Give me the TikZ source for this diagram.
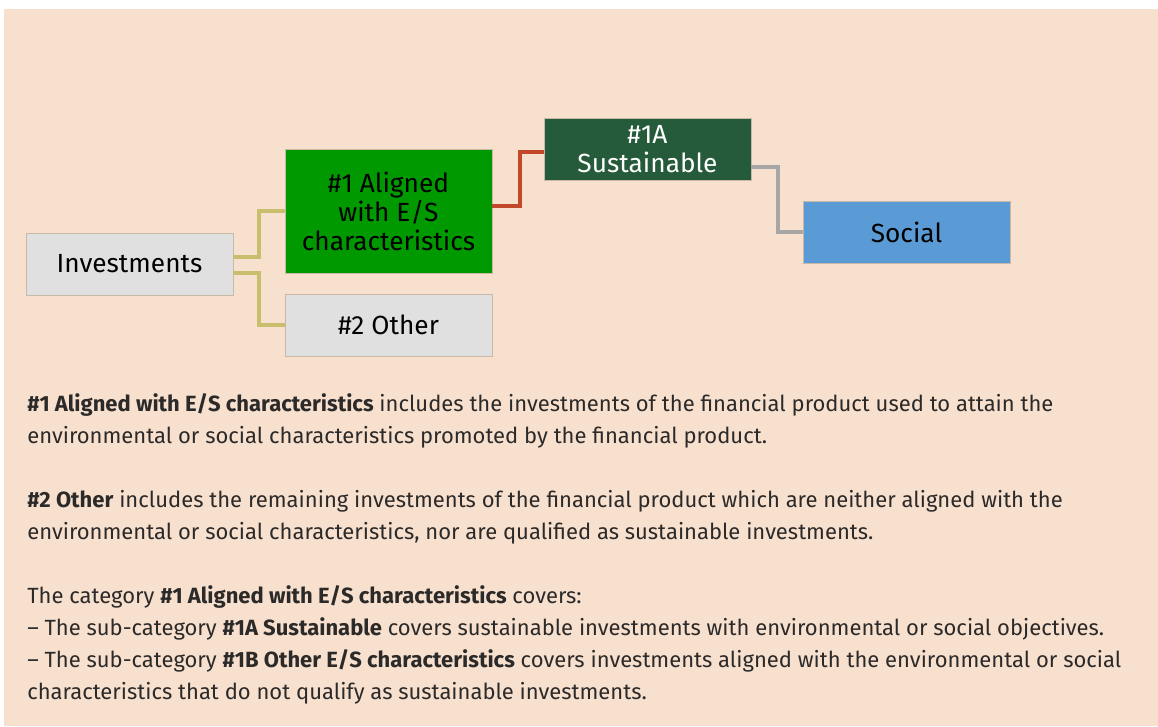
\documentclass[tikz,border=0pt]{standalone}
\usepackage{fontspec}
\setmainfont{Fira Sans}
\definecolor{bg}{HTML}{F8E0CF}
\definecolor{boxgray}{HTML}{E0E0E0}
\definecolor{agreen}{HTML}{009900}
\definecolor{dgreen}{HTML}{255A3A}
\definecolor{sblue}{HTML}{5B9BD5}
\definecolor{khaki}{HTML}{C9BE6E}
\definecolor{rust}{HTML}{C2482A}
\definecolor{lgray}{HTML}{A6A6A6}
\definecolor{txt}{HTML}{2B2A29}
\definecolor{edge}{HTML}{C8B8A8}
\begin{document}
\begin{tikzpicture}[x=0.75pt,y=-0.75pt,
  box/.style={rectangle, minimum width=155.25pt, minimum height=46.5pt, inner sep=0pt,
    align=center, draw=edge, line width=0.6pt, font=\fontsize{19.7}{21.75}\selectfont},
  conn/.style={line width=3pt},
  para/.style={anchor=base west, inner sep=0pt, text=txt, font=\fontsize{16.5}{24}\selectfont}]
\useasboundingbox (0,0) rectangle (1158,726);
\fill[white] (0,0) rectangle (1158,726);
\fill[bg] (4,9) rectangle (1158,726);

\node[box, fill=boxgray] (inv) at (129.5,264) {Investments};
\node[box, fill=agreen, minimum height=93pt] (a1) at (388.5,211) {\#1 Aligned\\with E/S\\characteristics};
\node[box, fill=boxgray] (o2) at (388.5,325) {\#2 Other};
\node[box, fill=dgreen, text=white] (s1a) at (647.5,149) {\#1A\\Sustainable};
\node[box, fill=sblue] (soc) at (906.5,232) {Social};

\draw[conn, khaki] ([yshift=5.25pt]inv.east) -- ++(26,0) |- (a1.west);
\draw[conn, khaki] ([yshift=-6.75pt]inv.east) -- ++(26,0) |- (o2.west);
\draw[conn, rust] ([yshift=3.75pt]a1.east) -- ++(28,0) |- ([yshift=-2.25pt]s1a.west);
\draw[conn, lgray] ([yshift=-13.5pt]s1a.east) -- ++(27,0) |- (soc.west);

\node[para] (p1) at (27,411) {\textbf{\#1 Aligned with E/S characteristics} includes the investments of the financial product used to attain the};
\node[para] (p2) at (27,443) {environmental or social characteristics promoted by the financial product.};
\node[para] (p3) at (27,507) {\textbf{\#2 Other} includes the remaining investments of the financial product which are neither aligned with the};
\node[para] (p4) at (27,539) {environmental or social characteristics, nor are qualified as sustainable investments.};
\node[para] (p5) at (27,603) {The category \textbf{\#1 Aligned with E/S characteristics} covers:};
\node[para] (p6) at (27,635) {– The sub-category \textbf{\#1A Sustainable} covers sustainable investments with environmental or social objectives.};
\node[para] (p7) at (27,667) {– The sub-category \textbf{\#1B Other E/S characteristics} covers investments aligned with the environmental or social};
\node[para] (p8) at (27,699) {characteristics that do not qualify as sustainable investments.};
\end{tikzpicture}
\end{document}
